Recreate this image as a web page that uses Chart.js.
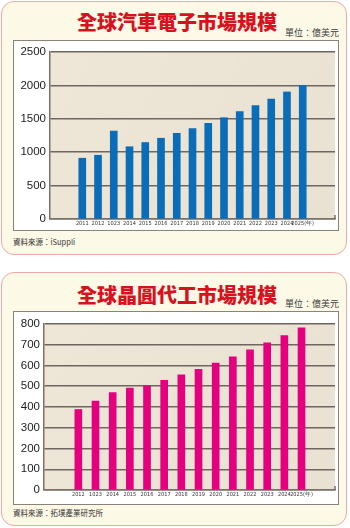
<!DOCTYPE html>
<html>
<head>
<meta charset="utf-8">
<script src="https://cdn.jsdelivr.net/npm/chart.js@4/dist/chart.umd.min.js"></script>
<style>
  html, body { margin: 0; padding: 0; background: #ffffff; }
  body { width: 350px; height: 528px; position: relative; overflow: hidden; font-family: "Noto Sans CJK TC", "Noto Sans", sans-serif; }
  .card { position: absolute; left: 1px; width: 346px; background: #fdf9e7; border: 1.5px solid #eea9a6; border-radius: 13px; box-sizing: border-box; }
  .title { position: absolute; left: 0; width: 354px; text-align: center; color: #d7121f; font-weight: 900; font-size: 20px; line-height: 20px; letter-spacing: 0px; white-space: nowrap; }
  .unit { position: absolute; left: 285px; font-size: 9px; line-height: 10px; color: #3a3a3a; white-space: nowrap; }
  .box { position: absolute; left: 13px; width: 326px; background: #ffffff; border: 1px solid #8b837b; box-sizing: border-box; }
  .src { position: absolute; left: 13px; font-size: 7.5px; line-height: 9px; color: #333; white-space: nowrap; }
  canvas { position: absolute; }
</style>
</head>
<body>
<div class="card" style="top:1px;height:254px;"></div>
<div class="title" style="top:12px;">全球汽車電子市場規模</div>
<div class="unit" style="top:28px;">單位：億美元</div>
<div class="box" style="top:40px;height:191px;"></div>
<div style="position:absolute;left:14px;top:41px;width:324px;height:189px;"><canvas id="c1" style="left:0;top:0"></canvas></div>
<div class="src" style="top:237px;">資料來源：iSuppli</div>

<div class="card" style="top:272px;height:254px;"></div>
<div class="title" style="top:285px;">全球晶圓代工市場規模</div>
<div class="unit" style="top:299px;">單位：億美元</div>
<div class="box" style="top:311px;height:194px;"></div>
<div style="position:absolute;left:14px;top:313px;width:324px;height:188px;"><canvas id="c2" style="left:0;top:0"></canvas></div>
<div class="src" style="top:508px;">資料來源：拓墣產業研究所</div>

<script>
// ---- data ----
const autoYears = ['2011','2012','1023','2014','2015','2016','2017','2018','2019','2020','2021','2022','2023','2024','2025(年)'];
const autoValues = [910, 955, 1315, 1082, 1145, 1209, 1282, 1355, 1433, 1516, 1608, 1696, 1793, 1901, 2000];
const autoTicks = [0, 500, 1000, 1500, 2000, 2500];

const foundryYears = ['2012','1023','2014','2015','2016','2017','2018','2019','2020','2021','2022','2023','2024','2025(年)'];
const foundryValues = [388, 428, 469, 491, 502, 528, 555, 581, 611, 641, 675, 709, 744, 781];
const foundryTicks = [0, 100, 200, 300, 400, 500, 600, 700, 800];

// ---- chart builder ----
const bgPlugin = {
  id: 'plotBg',
  beforeDraw(chart) {
    const a = chart.chartArea, ctx = chart.ctx;
    ctx.save();
    const g = ctx.createLinearGradient(a.left, a.top, a.right, a.bottom);
    g.addColorStop(0, '#eee7d8');
    g.addColorStop(1, '#e9e1d1');
    ctx.fillStyle = g;
    ctx.fillRect(a.left, a.top, a.right - a.left, a.bottom - a.top);
    ctx.restore();
  },
  afterDraw(chart) {
    // small corner mark at the bottom-right of the plot frame
    const a = chart.chartArea, ctx = chart.ctx;
    ctx.save();
    ctx.strokeStyle = '#7a7169';
    ctx.lineWidth = 1.5;
    ctx.beginPath();
    ctx.moveTo(a.right, a.bottom - 4);
    ctx.lineTo(a.right, a.bottom);
    ctx.stroke();
    ctx.restore();
  }
};

function makeChart(id, cats, vals, yTicks, color, yWidth, xMin, xMax, w, h) {
  const el = document.getElementById(id);
  el.width = w; el.height = h;
  el.style.width = w + 'px'; el.style.height = h + 'px';
  return new Chart(el, {
    type: 'bar',
    data: {
      datasets: [{
        data: vals.map((v, i) => ({ x: i, y: v })),
        backgroundColor: color,
        borderWidth: 0,
        barThickness: 7
      }]
    },
    options: {
      responsive: false,
      animation: false,
      devicePixelRatio: 1,
      layout: { padding: { top: 10, right: 3, bottom: 0, left: 0 } },
      plugins: { legend: { display: false }, tooltip: { enabled: false } },
      scales: {
        x: {
          type: 'linear',
          offset: false,
          min: xMin, max: xMax,
          afterBuildTicks(scale) { scale.ticks = cats.map((c, i) => ({ value: i })); },
          afterFit(scale) { scale.height = 8; },
          grid: { display: false, drawTicks: false, offset: false },
          border: { display: true, color: '#7a7169', width: 1.5 },
          ticks: {
            autoSkip: false, maxRotation: 0, minRotation: 0, padding: 1.5,
            color: '#333',
            font: { family: '"Liberation Sans Narrow", "DejaVu Sans Condensed", "Liberation Sans", sans-serif', size: 5.6 },
            callback: (v) => cats[v] !== undefined ? cats[v] : ''
          }
        },
        y: {
          min: yTicks[0], max: yTicks[yTicks.length - 1],
          afterBuildTicks(scale) { scale.ticks = yTicks.map(v => ({ value: v })); },
          afterFit(scale) { scale.width = yWidth; },
          grid: { color: '#6f675f', lineWidth: 1.5, drawTicks: false },
          border: { display: true, color: '#7a7169', width: 1.5 },
          ticks: {
            padding: 4,
            color: '#222',
            font: { family: '"Liberation Sans", Arial, sans-serif', size: 11.5 },
            callback: (v) => String(v)
          }
        }
      }
    },
    plugins: [bgPlugin]
  });
}

makeChart('c1', autoYears, autoValues, autoTicks, '#0b6cb8', 36, -2.05, 16.05, 324, 189);
makeChart('c2', foundryYears, foundryValues, foundryTicks, '#e4007f', 30, -2.0, 14.95, 324, 188);
</script>
</body>
</html>
